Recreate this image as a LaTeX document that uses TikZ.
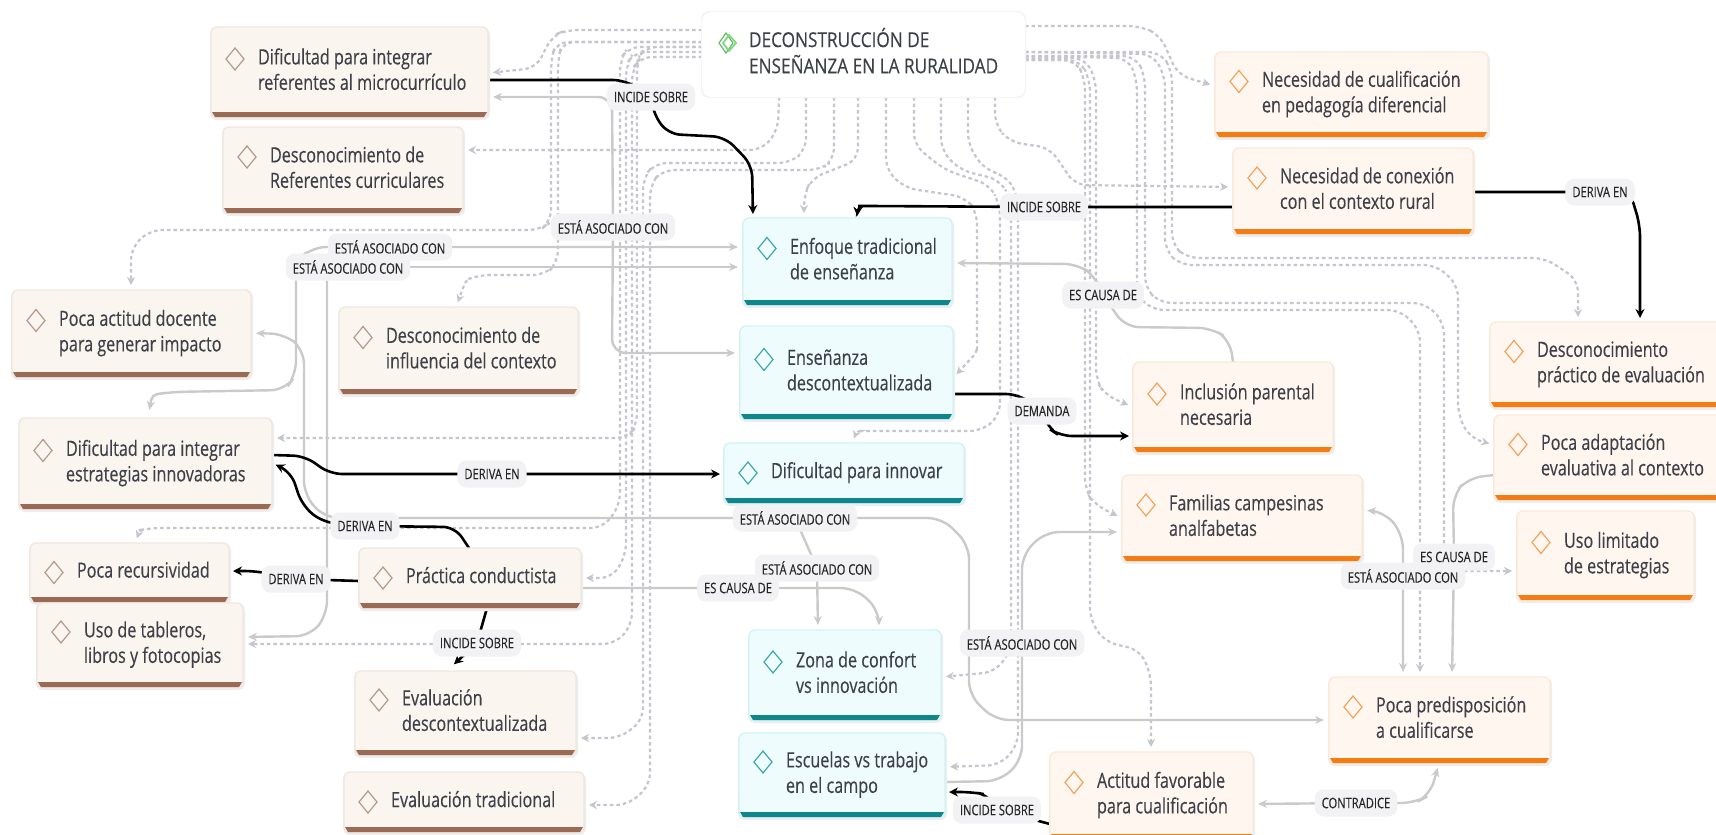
\documentclass[tikz,border=0pt]{standalone}
\usepackage{fontspec}
\setmainfont[FakeStretch=0.77,FakeBold=0.3]{Open Sans}
\newfontfamily\titlef[FakeStretch=0.84,FakeBold=0.3]{Open Sans}
\usetikzlibrary{arrows.meta,calc}
\definecolor{fillbrown}{HTML}{FBF5F0}\definecolor{edgebrown}{HTML}{F0E6DE}\definecolor{barbrown}{HTML}{9A6A55}\definecolor{diabrown}{HTML}{B39A8C}
\definecolor{fillteal}{HTML}{EEFCFD}\definecolor{edgeteal}{HTML}{CFF3F6}\definecolor{barteal}{HTML}{0E868B}\definecolor{diateal}{HTML}{3FA6AA}
\definecolor{fillorange}{HTML}{FFF7EF}\definecolor{edgeorange}{HTML}{FBE8D6}\definecolor{barorange}{HTML}{F47C14}\definecolor{diaorange}{HTML}{F0A35E}
\definecolor{ink}{HTML}{3E4048}\definecolor{dashc}{HTML}{C4C5CE}\definecolor{solidc}{HTML}{CACACA}\definecolor{pillc}{HTML}{F2F2F4}
\pgfdeclarelayer{conn}\pgfsetlayers{conn,main}
\tikzset{
 dsh/.style={draw=dashc,line width=2.2pt,dash pattern=on 3.5pt off 3pt,rounded corners=12pt,-{Stealth[length=8pt,width=8pt]},shorten >=5pt},
 sol/.style={draw=solidc,line width=2.4pt,rounded corners=14pt,-{Stealth[length=9pt,width=8pt]},shorten >=5pt},
 solboth/.style={draw=solidc,line width=2.4pt,rounded corners=14pt,{Stealth[length=9pt,width=8pt]}-{Stealth[length=9pt,width=8pt]},shorten >=5pt,shorten <=5pt},
 blk/.style={draw=black,line width=2.6pt,rounded corners=12pt,-{Stealth[length=9pt,width=9pt]},shorten >=4pt},
 pill/.style={fill=pillc,rounded corners=9pt,inner xsep=7pt,inner ysep=0pt,minimum height=27pt,text=black!85,font=\fontsize{14.5}{17}\selectfont},
 kb/.style={inner sep=0pt,outer sep=0pt,rounded corners=6pt,line width=1.4pt,text=ink,font=\fontsize{21}{25.5}\selectfont}
}
\newcommand\kbox[8][-13]{%
 \pgfmathsetmacro\kW{#5-#3}\pgfmathsetmacro\kH{#6-#4}%
 \pgfmathsetmacro\kCx{(#5+#3)/2}\pgfmathsetmacro\kCy{(#6+#4)/2}%
 \fill[black!7,rounded corners=7pt] (#3-1,#4+1) rectangle (#5+2,#6+3);
 \node[kb,draw=edge#7,fill=fill#7,minimum width=\kW pt,minimum height=\kH pt] (#2) at (\kCx,\kCy)
   {\hbox to \kW pt{\hspace{47pt}\begin{tabular}[c]{@{}l@{}}#8\end{tabular}\hfill}};
 \fill[bar#7] (#3+1,#6-5) -- (#5-1,#6-5) -- (#5-4,#6) -- (#3+4,#6) -- cycle;
 \draw[dia#7,line width=1.2pt] (#3+15,\kCy+#1) -- (#3+24,\kCy+#1-11) -- (#3+33,\kCy+#1) -- (#3+24,\kCy+#1+11) -- cycle;
}
\begin{document}
\begin{tikzpicture}[x=1pt,y=-1pt]
\useasboundingbox (0,0) rectangle (1716,835);
\begin{pgfonlayer}{conn}\fill[white] (0,0) rectangle (1716,835);\end{pgfonlayer}
% root
\fill[black!4,rounded corners=8pt] (701,11) rectangle (1026,98);
\node[inner sep=0pt,outer sep=0pt,rounded corners=8pt,draw=black!6,fill=white,minimum width=323pt,minimum height=85pt,text=ink,font=\titlef\fontsize{20.5}{26}\selectfont] (root) at (863.5,54.5)
  {\hbox to 323pt{\hspace{47pt}\begin{tabular}[c]{@{}l@{}}DECONSTRUCCIÓN DE\\ENSEÑANZA EN LA RURALIDAD\end{tabular}\hfill}};
\draw[green!55!black!60,line width=1.2pt] (719,43) -- (726,33) -- (733,43) -- (726,53) -- cycle;
\draw[green!70!black!50,line width=1.8pt] (723,43) -- (729,35) -- (736,43) -- (729,51) -- cycle;
% boxes
\kbox{dr}{211}{27}{488}{117}{brown}{Dificultad para integrar\\referentes al microcurrículo}
\kbox{ref}{223}{127}{463}{213}{brown}{Desconocimiento de\\Referentes curriculares}
\kbox{act}{12}{290}{251}{377}{brown}{Poca actitud docente\\para generar impacto}
\kbox{inf}{339}{307}{578}{394}{brown}{Desconocimiento de\\influencia del contexto}
\kbox{est}{19}{418}{272}{509}{brown}{Dificultad para integrar\\estrategias innovadoras}
\kbox[0]{rec}{30}{543}{229}{602}{brown}{Poca recursividad}
\kbox{tab}{37}{603}{243}{687}{brown}{Uso de tableros,\\libros y fotocopias}
\kbox[0]{pra}{359}{548}{581}{608}{brown}{Práctica conductista}
\kbox{evd}{355}{671}{576}{755}{brown}{Evaluación\\descontextualizada}
\kbox[0]{evt}{344}{772}{584}{832}{brown}{Evaluación tradicional}
\kbox{enf}{743}{218}{952}{305}{teal}{Enfoque tradicional\\de enseñanza}
\kbox{ens}{740}{326}{953}{419}{teal}{Enseñanza\\descontextualizada}
\kbox[0]{inn}{724}{443}{964}{503}{teal}{Dificultad para innovar}
\kbox{zon}{749}{630}{941}{720}{teal}{Zona de confort\\vs innovación}
\kbox{esc}{739}{733}{945}{817}{teal}{Escuelas vs trabajo\\en el campo}
\kbox{cua}{1215}{52}{1488}{137}{orange}{Necesidad de cualificación\\en pedagogía diferencial}
\kbox{con}{1233}{148}{1473}{234}{orange}{Necesidad de conexión\\con el contexto rural}
\kbox{prv}{1490}{322}{1722}{407}{orange}{Desconocimiento\\práctico de evaluación}
\kbox{inc}{1133}{362}{1333}{452}{orange}{Inclusión parental\\necesaria}
\kbox{ada}{1494}{415}{1722}{500}{orange}{Poca adaptación\\evaluativa al contexto}
\kbox{fam}{1122}{475}{1362}{561}{orange}{Familias campesinas\\analfabetas}
\kbox{lim}{1517}{511}{1694}{600}{orange}{Uso limitado\\de estrategias}
\kbox{pre}{1329}{677}{1550}{763}{orange}{Poca predisposición\\a cualificarse}
\kbox{fav}{1050}{752}{1253}{839}{orange}{Actitud favorable\\para cualificación}
% labels
\node[pill] (l1) at (651,97) {INCIDE SOBRE};
\node[pill] (l2) at (1044,207) {INCIDE SOBRE};
\node[pill] (l3) at (1600,192) {DERIVA EN};
\node[pill] (l6) at (613,227) {ESTÁ ASOCIADO CON};
\node[pill] (l4) at (390,247) {ESTÁ ASOCIADO CON};
\node[pill] (l5) at (348,267) {ESTÁ ASOCIADO CON};
\node[pill] (l7) at (1103,295) {ES CAUSA DE};
\node[pill] (l8) at (1042,411) {DEMANDA};
\node[pill] (l9) at (492,474) {DERIVA EN};
\node[pill] (l10) at (365,526) {DERIVA EN};
\node[pill] (l11) at (795,518) {ESTÁ ASOCIADO CON};
\node[pill] (l12) at (817,568) {ESTÁ ASOCIADO CON};
\node[pill] (l13) at (738,588) {ES CAUSA DE};
\node[pill] (l14) at (296,579) {DERIVA EN};
\node[pill] (l15) at (477,643) {INCIDE SOBRE};
\node[pill] (l16) at (1022,643) {ESTÁ ASOCIADO CON};
\node[pill] (l17) at (1454,557) {ES CAUSA DE};
\node[pill] (l18) at (1403,576) {ESTÁ ASOCIADO CON};
\node[pill] (l19) at (1356,803) {CONTRADICE};
\node[pill] (l20) at (997,810) {INCIDE SOBRE};
% connectors
\begin{pgfonlayer}{conn}
% dashed, left of root
\draw[dsh] (root.west|-0,30) -- (566,30) -- (552,36) -- (536,68) -- (dr.east|-0,73);
\draw[dsh] (root.west|-0,42) -- (556,42) -- (551,60) -- (551,222) -- (540,230) -- (150,230) -- (131,248) -- (act.north-|131,0);
\draw[dsh] (root.west|-0,42) -- (562,42) -- (558,60) -- (558,262) -- (545,275) -- (478,275) [rounded corners=5pt] -- (466,280) -- (inf.north-|456,0);
\draw[dsh] (root.west|-0,47) -- (645,47) -- (637,60) -- (637,425) -- (628,438) -- (est.east|-0,438);
\draw[dsh] (root.west|-0,47) -- (628,47) -- (620,60) -- (620,505) -- (603,528) -- (150,528) [rounded corners=4pt] -- (140,530) -- (rec.north-|135,0);
\draw[dsh] (root.west|-0,52) -- (634,52) -- (626,65) -- (626,555) -- (612,578) -- (pra.east|-0,578);
\draw[dsh] (root.west|-0,57) -- (640,57) -- (632,70) -- (632,625) -- (615,644) -- (tab.east|-0,644);
\draw[dsh] (root.south-|806,0) -- (806,150) -- (790,163) -- (655,163) -- (643,178) -- (643,720) -- (620,738) -- (evd.east|-0,738);
\draw[dsh] (root.south-|834,0) -- (834,160) -- (820,170) -- (662,170) -- (650,185) -- (650,785) -- (628,805) -- (evt.east|-0,805);
\draw[dsh] (root.south-|779,0) -- (778,130) -- (762,150) -- (ref.east|-0,150);
\draw[dsh] (root.south-|858,0) -- (858,160) -- (812,178) -- (804,195) -- (enf.north-|804,0);
% dashed, bottom right of root
\draw[dsh] (root.south-|886,0) -- (886,170) -- (905,188) -- (965,197) -- (977,212) -- (977,340) [rounded corners=5pt] -- (977,352) -- (ens.east|-0,378);
\draw[dsh] (root.south-|914,0) -- (914,145) -- (945,170) -- (990,185) -- (1000,205) -- (1000,415) -- (982,431) -- (870,431) [rounded corners=3pt] -- (857,431) -- (inn.north-|852,0);
\draw[dsh] (root.south-|941,0) -- (941,150) -- (960,170) -- (1000,180) -- (1011,200) -- (1011,650) -- (995,672) -- (zon.east|-0,677);
\draw[dsh] (root.south-|968,0) -- (968,145) -- (985,170) -- (1005,175) -- (1018,195) -- (1018,745) -- (1000,765) -- (esc.east|-0,767);
\draw[dsh] (root.south-|995,0) -- (995,125) -- (1010,142) -- (1050,148) -- (1075,185) -- (con.west|-0,187);
% dashed, right of root
\draw[dsh] (root.east|-0,26) -- (1140,26) -- (1160,35) -- (1178,75) -- (cua.west|-0,86);
\draw[dsh] (root.east|-0,52) -- (1160,52) -- (1172,70) -- (1172,245) -- (1187,258) -- (1545,258) -- (1578,280) -- (prv.north-|1578,0);
\draw[dsh] (root.east|-0,52) -- (1152,54) -- (1165,75) -- (1165,250) -- (1180,265) -- (1436,265) -- (1458,285) -- (1458,415) -- (1470,438) -- (ada.west|-0,445);
\draw[dsh] (root.east|-0,56) -- (1135,56) -- (1145,75) -- (1145,288) -- (1160,303) -- (1425,303) -- (1444,322) -- (1444,571) -- (lim.west|-0,571);
\draw[dsh] (root.east|-0,56) -- (1128,58) -- (1137,80) -- (1137,295) -- (1152,310) -- (1400,310) -- (1420,330) -- (pre.north-|1420,0);
\draw[dsh] (root.east|-0,58) -- (1085,58) -- (1096,80) -- (1096,380) -- (1105,395) -- (inc.west|-0,407);
\draw[dsh] (root.east|-0,60) -- (1075,60) -- (1085,78) -- (1085,490) -- (1095,505) -- (fam.west|-0,518);
\draw[dsh] (root.east|-0,60) -- (1080,60) -- (1090,80) -- (1090,620) -- (1105,642) -- (1140,650) -- (1151,675) -- (fav.north-|1151,0);
% solid grey
\draw[solboth] (dr.east|-0,97) -- (612,97) -- (l6.center) -- (612,353) -- (ens.west|-0,353);
\draw[solboth,shorten >=8pt] (enf.west|-0,247) -- (l4.center) -- (312,247) -- (296,262) -- (296,375) -- (285,390) -- (170,392) [rounded corners=5pt] -- (152,395) -- (est.north-|148,0);
\draw[sol] (l5.center) -- (enf.west|-0,267);
\draw[sol] (l5.south-|327,0) -- (327,615) -- (310,636) -- (tab.east|-0,637);
\draw[sol] (l11.center) -- (325,518) -- (304,495) -- (304,350) -- (285,334) -- (act.east|-0,333);
\draw[sol] (l11.center) -- (942,518) -- (969,545) -- (969,695) -- (995,720) -- (pre.west|-0,720);
\draw[sol] (l11.center) -- (l12.center) -- (zon.north-|818,0);
\draw[sol] (pra.east|-0,588) -- (l13.center) -- (855,588) -- (879,610) -- (zon.north-|879,0);
\draw[sol] (inc.north-|1233,0) -- (1230,340) -- (1212,328) -- (1125,327) -- (l7.center) -- (1096,277) -- (1078,264) -- (enf.east|-0,263);
\draw[sol] (ada.west|-0,475) -- (1468,478) -- (1453,495) -- (l17.center) -- (pre.north-|1452,0);
\draw[solboth] (fam.east|-0,510) -- (1385,512) -- (1403,535) -- (l18.center) -- (pre.north-|1403,0);
\draw[sol] (esc.east|-0,782) -- (1000,781) -- (1022,760) -- (l16.center) -- (1022,555) -- (1045,532) -- (fam.west|-0,532);
\draw[solboth] (fav.east|-0,804) -- (l19.center) -- (1415,803) -- (1430,795) -- (pre.south-|1439,0);
% black
\coordinate (evdtip) at (451,667);
\draw[blk] (dr.east|-0,80) -- (625,80) -- (l1.center) -- (653,113) -- (668,134) -- (725,137) -- (752,165) -- (enf.north-|753,0);
\draw[blk,shorten >=2pt] (con.west|-0,207) -- (l2.center) -- (870,206) [rounded corners=5pt] -- (858,206) -- (enf.north-|857,0);
\draw[blk] (con.east|-0,192) -- (l3.center) -- (1630,192) -- (1640,225) -- (prv.north-|1640,0);
\draw[blk] (ens.east|-0,394) -- (1018,394) -- (l8.center) -- (1048,428) -- (1060,436) -- (inc.west|-0,436);
\draw[blk] (est.east|-0,455) -- (305,456) -- (330,474) -- (l9.center) -- (inn.west|-0,474);
\draw[blk] (pra.north-|469,0) -- (455,527) -- (l10.center) -- (322,522) -- (302,505) -- (291,472) -- (est.east|-0,463);
\draw[blk] (pra.west|-0,581) -- (l14.center) -- (256,571) -- (rec.east|-0,571);
\draw[blk] (pra.south-|487,0) -- (l15.center) -- (evdtip);
\draw[blk] (fav.west|-0,824) -- (l20.center) -- (989,795) -- (972,792) -- (esc.east|-0,792);
\end{pgfonlayer}
\end{tikzpicture}
\end{document}
